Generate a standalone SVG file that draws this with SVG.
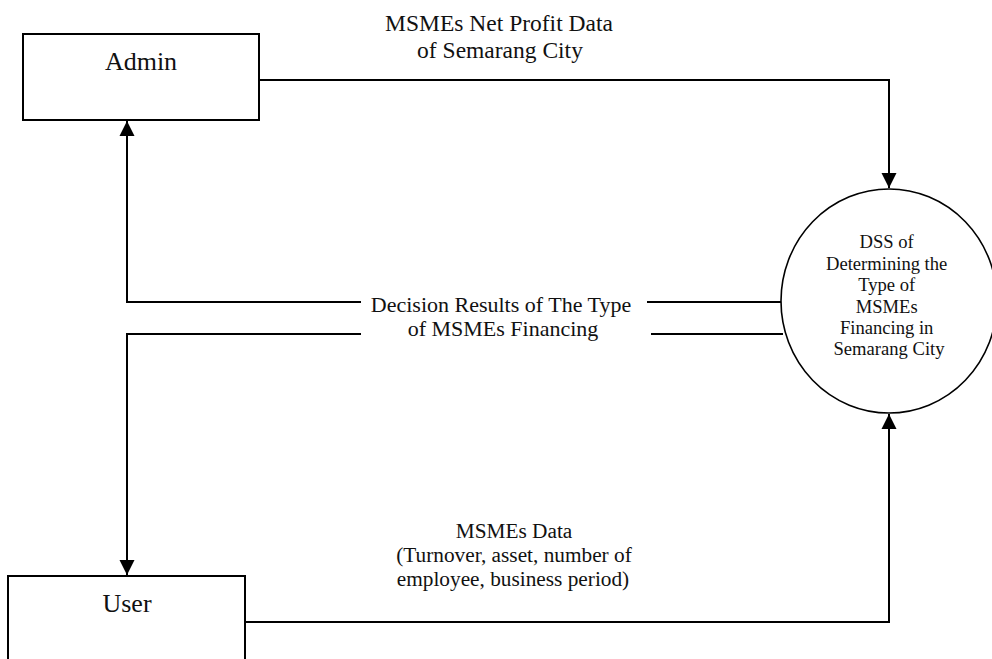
<svg xmlns="http://www.w3.org/2000/svg" width="992" height="659" viewBox="0 0 992 659">
<style>
  .box{fill:#fff;stroke:#000;stroke-width:2}
  .proc{fill:#fff;stroke:#000;stroke-width:1.6}
  .flow{fill:none;stroke:#000;stroke-width:2}
  text{font-family:"Liberation Serif","Times New Roman",serif;fill:#111;text-anchor:middle}
</style>
<defs>
  <marker id="arr" markerUnits="userSpaceOnUse" markerWidth="16" markerHeight="16" viewBox="0 0 16 16" refX="15" refY="8" orient="auto">
    <path d="M0,0.5 L15,8 L0,15.5 Z" fill="#000"/>
  </marker>
</defs>
<rect width="992" height="659" fill="#fff"/>
<g id="connectors">
  <polyline class="flow" points="259,80 889,80 889,188" marker-end="url(#arr)"/>
  <polyline class="flow" points="361,302 127,302 127,121" marker-end="url(#arr)"/>
  <line class="flow" x1="647" y1="302" x2="781" y2="302"/>
  <polyline class="flow" points="361,334 127,334 127,575" marker-end="url(#arr)"/>
  <line class="flow" x1="651" y1="334" x2="783" y2="334"/>
  <polyline class="flow" points="245,622 889,622 889,414" marker-end="url(#arr)"/>
  <text font-size="23.5"><tspan x="499" y="31">MSMEs Net Profit Data</tspan><tspan x="500" y="58">of Semarang City</tspan></text>
  <text font-size="22"><tspan x="501" y="312">Decision Results of The Type</tspan><tspan x="503" y="336">of MSMEs Financing</tspan></text>
  <text font-size="21.3"><tspan x="514" y="538">MSMEs Data</tspan><tspan x="514" y="562">(Turnover, asset, number of</tspan><tspan x="513" y="586">employee, business period)</tspan></text>
</g>
<g id="admin">
  <rect class="box" x="23" y="34" width="236" height="86"/>
  <text x="141" y="70" font-size="26">Admin</text>
</g>
<g id="user">
  <rect class="box" x="8" y="576" width="237" height="100"/>
  <text x="127" y="612" font-size="26">User</text>
</g>
<g id="dss">
  <ellipse class="proc" cx="889" cy="301" rx="108" ry="112"/>
  <text font-size="18.6">
    <tspan x="889" y="248">DSS of</tspan>
    <tspan x="889" y="270">Determining the</tspan>
    <tspan x="889" y="291">Type of</tspan>
    <tspan x="889" y="313">MSMEs</tspan>
    <tspan x="889" y="334">Financing in</tspan>
    <tspan x="889" y="355">Semarang City</tspan>
  </text>
</g>
</svg>
